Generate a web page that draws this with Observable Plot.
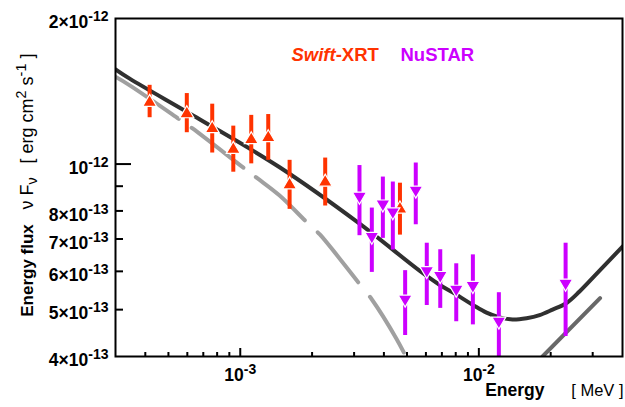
<!DOCTYPE html>
<html><head><meta charset="utf-8">
<script src="https://cdn.jsdelivr.net/npm/d3@7"></script>
<script src="https://cdn.jsdelivr.net/npm/@observablehq/plot@0.6"></script>
<style>
html,body{margin:0;padding:0;background:#fff;}
#chart svg{display:block;}
</style></head><body><div id="chart"></div>
<script>
// ---- data ----
const swiftEnergy = [4.17e-4, 5.97e-4, 7.63e-4, 9.35e-4, 1.112e-3, 1.31e-3, 1.61e-3, 2.27e-3, 4.67e-3];
const swiftFlux   = [13.51e-13, 12.80e-13, 11.92e-13, 10.80e-13, 11.31e-13, 11.42e-13, 9.12e-13, 9.24e-13, 8.13e-13];
const swiftErr    = [1.04e-13, 1.19e-13, 1.38e-13, 1.18e-13, 1.30e-13, 1.24e-13, 1.06e-13, 1.05e-13, 1.00e-13];

const nustarEnergy = [3.16e-3, 3.56e-3, 3.96e-3, 4.36e-3, 4.91e-3, 5.44e-3, 6.05e-3, 6.89e-3, 8.04e-3, 9.44e-3, 1.213e-2, 2.31e-2];
const nustarFlux   = [8.52e-13, 7.04e-13, 8.21e-13, 7.91e-13, 5.22e-13, 8.77e-13, 5.98e-13, 5.84e-13, 5.47e-13, 5.57e-13, 4.70e-13, 5.63e-13];
const nustarErr    = [1.41e-13, 1.07e-13, 1.19e-13, 1.27e-13, 0.80e-13, 1.28e-13, 0.88e-13, 0.81e-13, 0.75e-13, 0.92e-13, 0.72e-13, 1.23e-13];

// total model (solid black)
const modelEnergy = [3.0e-4, 3.44e-4, 6.75e-4, 1.462e-3, 3.162e-3, 5.64e-3, 6.84e-3, 7.76e-3, 9.41e-3, 1.077e-2, 1.221e-2, 1.384e-2, 1.585e-2, 1.797e-2, 2.037e-2, 2.332e-2, 2.642e-2, 3.206e-2, 4.0e-2];
const modelFlux   = [15.70e-13, 15.02e-13, 12.38e-13, 9.85e-13, 7.53e-13, 6.02e-13, 5.63e-13, 5.43e-13, 5.12e-13, 4.93e-13, 4.82e-13, 4.77e-13, 4.80e-13, 4.87e-13, 5.00e-13, 5.16e-13, 5.45e-13, 6.02e-13, 6.75e-13];

// synchrotron component (light grey dashed)
const synEnergy = [2.97e-4, 3.44e-4, 5.57e-4, 6.31e-4, 1.042e-3, 1.182e-3, 1.462e-3, 1.896e-3, 2.15e-3, 3.162e-3, 3.55e-3, 4.52e-3, 4.88e-3, 5.08e-3];
const synFlux   = [15.19e-13, 14.55e-13, 12.37e-13, 11.85e-13, 9.79e-13, 9.34e-13, 8.61e-13, 7.59e-13, 7.16e-13, 5.65e-13, 5.26e-13, 4.35e-13, 4.05e-13, 3.88e-13];

// inverse-Compton component (dark grey dashed)
const icEnergy = [1.849e-2, 3.206e-2, 4.0e-2];
const icFlux   = [4.0e-13, 5.27e-13, 5.89e-13];

// axes
const xDomain = [3e-4, 4e-2];
const yDomain = [4e-13, 2e-12];
const xMajorTicks = [1e-3, 1e-2];
const xMinorTicks = [4e-4, 5e-4, 6e-4, 7e-4, 8e-4, 9e-4, 2e-3, 3e-3, 4e-3, 5e-3, 6e-3, 7e-3, 8e-3, 9e-3, 2e-2, 3e-2];
const xTickLabels = ["10^{-3}", "10^{-2}"];
const yMajorTicks = [1e-12];
const yMinorTicks = [5e-13, 6e-13, 7e-13, 8e-13, 9e-13];
const yLabelValues = [2e-12, 1e-12, 8e-13, 7e-13, 6e-13, 5e-13, 4e-13];
const yTickLabels = ["2×10^{-12}", "10^{-12}", "8×10^{-13}", "7×10^{-13}", "6×10^{-13}", "5×10^{-13}", "4×10^{-13}"];

const legendLabels = ["//Swift//-XRT", "NuSTAR"];
const yTitleParts = ["Energy flux", "ν F_{ν}", "[ erg cm^{2} s^{-1} ]"];
const xTitleParts = ["Energy", "[ MeV ]"];

// ---- build ----
const orange = "#ff3300", purple = "#cc00ff";
const FONT = "'Liberation Sans', Arial, Helvetica, sans-serif";
const W = 625, H = 407, mL = 115, mR = 3, mT = 18, mB = 51;
const fw = W - mL - mR, fh = H - mT - mB;

const swift = swiftEnergy.map((e, i) => ({e, f: swiftFlux[i], lo: swiftFlux[i] - swiftErr[i], hi: swiftFlux[i] + swiftErr[i]}));
const nustar = nustarEnergy.map((e, i) => ({e, f: nustarFlux[i], lo: nustarFlux[i] - nustarErr[i], hi: nustarFlux[i] + nustarErr[i]}));
const model = modelEnergy.map((e, i) => ({e, f: modelFlux[i]}));
const syn = synEnergy.map((e, i) => ({e, f: synFlux[i]}));
const ic = icEnergy.map((e, i) => ({e, f: icFlux[i]}));

const xLabelMap = new Map(xMajorTicks.map((v, i) => [v, xTickLabels[i]]));
const yLabelMap = new Map(yLabelValues.map((v, i) => [v, yTickLabels[i]]));

// arrow-head markers of fixed pixel size
const upTri = {draw(ctx) { ctx.moveTo(0, -6.5); ctx.lineTo(7, 5.5); ctx.lineTo(-7, 5.5); ctx.closePath(); }};
const downTri = {draw(ctx) { ctx.moveTo(0, 6.5); ctx.lineTo(7, -5.5); ctx.lineTo(-7, -5.5); ctx.closePath(); }};

const chart = Plot.plot({
  width: W, height: H, marginLeft: mL, marginRight: mR, marginTop: mT, marginBottom: mB,
  x: {type: "log", domain: xDomain},
  y: {type: "log", domain: yDomain},
  style: {fontFamily: FONT, background: "white", color: "black"},
  marks: [
    Plot.line(syn, {x: "e", y: "f", curve: "catmull-rom", stroke: "#a0a0a0", strokeWidth: 4, strokeDasharray: "77,16,65,16,65,18,64,19,65,20", clip: true}),
    Plot.line(ic, {x: "e", y: "f", stroke: "#686868", strokeWidth: 4, strokeDasharray: "82,60", clip: true}),
    Plot.line(model, {x: "e", y: "f", curve: "catmull-rom", stroke: "#303030", strokeWidth: 4, clip: true}),
    Plot.ruleX(swift, {x: "e", y1: "lo", y2: "hi", stroke: orange, strokeWidth: 4, clip: true}),
    Plot.ruleX(nustar, {x: "e", y1: "lo", y2: "hi", stroke: purple, strokeWidth: 4, clip: true}),
    Plot.dot(swift, {x: "e", y: "f", symbol: upTri, r: 7, fill: orange, stroke: "white", strokeWidth: 1.2}),
    Plot.dot(nustar, {x: "e", y: "f", symbol: downTri, r: 7, fill: purple, stroke: "white", strokeWidth: 1.2}),
    Plot.ruleY(yMinorTicks, {insetRight: fw - 8, stroke: "black", strokeWidth: 2}),
    Plot.ruleY(yMajorTicks, {insetRight: fw - 16, stroke: "black", strokeWidth: 2}),
    Plot.ruleX(xMinorTicks, {insetTop: fh - 4, stroke: "black", strokeWidth: 2}),
    Plot.ruleX(xMajorTicks, {insetTop: fh - 8, stroke: "black", strokeWidth: 2}),
    Plot.frame({stroke: "black", strokeWidth: 2}),
    Plot.axisY(yLabelValues, {anchor: "left", tickSize: 0, tickPadding: 7, dy: 4, tickFormat: d => yLabelMap.get(d), fontSize: 17.5, fontWeight: "bold", label: null}),
    Plot.axisX(xMajorTicks, {anchor: "bottom", tickSize: 0, tickPadding: 12, tickFormat: d => xLabelMap.get(d), fontSize: 17.5, fontWeight: "bold", label: null}),
    Plot.text([legendLabels[0]], {frameAnchor: "top-left", dx: 176, dy: 29.5, textAnchor: "start", fill: orange, fontSize: 18.5, fontWeight: "bold"}),
    Plot.text([legendLabels[1]], {frameAnchor: "top-left", dx: 285, dy: 29.5, textAnchor: "start", fill: purple, fontSize: 18.5, fontWeight: "bold"}),
    Plot.text([yTitleParts[0]], {frameAnchor: "left", rotate: -90, dx: -88.4, dy: 83, textAnchor: "middle", fontSize: 17, fontWeight: "bold"}),
    Plot.text([yTitleParts[1]], {frameAnchor: "left", rotate: -90, dx: -88.4, dy: 6, textAnchor: "middle", fontSize: 18}),
    Plot.text([yTitleParts[2]], {frameAnchor: "left", rotate: -90, dx: -88.4, dy: -79, textAnchor: "middle", fontSize: 18}),
    Plot.text([xTitleParts[0]], {frameAnchor: "bottom-right", dx: -78, dy: 39.5, textAnchor: "end", fontSize: 17.5, fontWeight: "bold"}),
    Plot.text([xTitleParts[1]], {frameAnchor: "bottom-right", dx: 1, dy: 39.5, textAnchor: "end", fontSize: 16.5})
  ]
});
document.getElementById("chart").appendChild(chart);

// rich text: ^{sup}, _{sub}, //italic//
function richify(svg) {
  const NS = "http://www.w3.org/2000/svg";
  svg.querySelectorAll("text").forEach(el => {
    if (el.querySelector("tspan")) return;
    const txt = el.textContent;
    if (!/\^\{|_\{|\/\//.test(txt)) return;
    const fs = parseFloat(getComputedStyle(el).fontSize) || 16;
    const parts = txt.split(/(\/\/.+?\/\/|\^\{.*?\}|_\{.*?\})/).filter(s => s.length);
    el.textContent = "";
    el.style.whiteSpace = "pre";
    let cur = 0;
    for (const p of parts) {
      const ts = document.createElementNS(NS, "tspan");
      let t = p, target = 0, small = false;
      if (p.startsWith("^{")) { t = p.slice(2, -1); target = -0.4 * fs; small = true; }
      else if (p.startsWith("_{")) { t = p.slice(2, -1); target = 0.25 * fs; small = true; }
      else if (p.startsWith("//")) { t = p.slice(2, -2); ts.setAttribute("font-style", "italic"); }
      if (target !== cur) { ts.setAttribute("dy", (target - cur).toFixed(2)); cur = target; }
      if (small) ts.setAttribute("font-size", (0.8 * fs).toFixed(1) + "px");
      ts.textContent = t;
      el.appendChild(ts);
    }
  });
}
richify(chart);
</script></body></html>
